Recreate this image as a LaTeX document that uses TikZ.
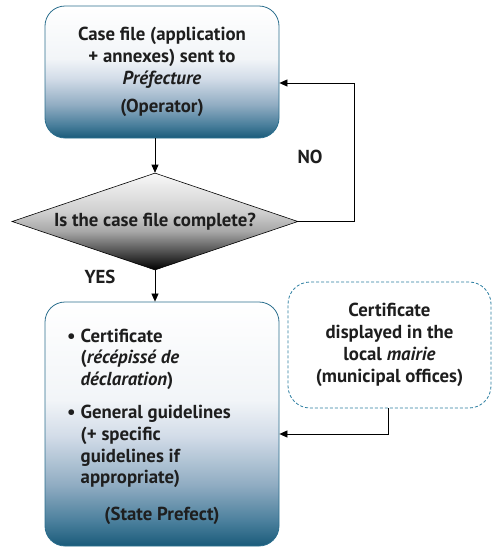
\documentclass[tikz,border=0pt]{standalone}
\usepackage{fontspec}
\setmainfont{PT Sans}
\usetikzlibrary{arrows.meta,shapes.geometric}
\definecolor{bxline}{HTML}{2C6F8E}
\definecolor{bxdark}{HTML}{1A5B7A}
\definecolor{bxa}{HTML}{4A7F9C}
\definecolor{bxb}{HTML}{90ACC2}
\definecolor{bxc}{HTML}{D2DCE8}
\definecolor{bxd}{HTML}{F2F5F8}
\definecolor{dga}{HTML}{555555}
\definecolor{dgb}{HTML}{A8A8A8}
\definecolor{dgc}{HTML}{CFCFCF}
\definecolor{dgd}{HTML}{F8F8F8}
\definecolor{txtc}{HTML}{1E1E1E}
\definecolor{dashc}{HTML}{2A7DA0}
\pgfdeclareverticalshading{boxshade}{100bp}{color(0bp)=(bxdark); color(25bp)=(bxdark); color(30bp)=(bxa); color(37.5bp)=(bxb); color(47.5bp)=(bxc); color(55bp)=(bxd); color(75bp)=(white); color(100bp)=(white)}
\pgfdeclareverticalshading{diashade}{100bp}{color(0bp)=(black); color(25bp)=(black); color(35bp)=(dga); color(45bp)=(dgb); color(55bp)=(dgc); color(75bp)=(dgd); color(100bp)=(dgd)}
\begin{document}
\begin{tikzpicture}[x=1pt,y=-1pt,
  txt/.style={text=txtc, font=\fontsize{18.8}{21.8}\selectfont\bfseries, inner sep=0pt},
  procbox/.style={txt, draw=bxline, line width=0.8pt, rounded corners=20pt, shading=boxshade, align=center},
  decbox/.style={txt, draw=black, line width=0.6pt, shape=diamond, shading=diashade, minimum width=286pt, minimum height=97pt, aspect=2.95},
  notebox/.style={txt, draw=dashc, line width=0.8pt, dash pattern=on 3pt off 2pt, rounded corners=22pt, align=center},
  conn/.style={draw=black, line width=0.7pt, -{Triangle[length=8pt,width=7pt]}},
  lbl/.style={txt}
]
\useasboundingbox (0,0) rectangle (492,547);
\node[procbox, minimum width=234pt, minimum height=132pt] (top) at (162,72) {Case file (application\\+ annexes) sent to\\\textit{Préfecture}\\[6pt](Operator)};
\node[decbox] (dia) at (155,221.5) {Is the case file complete?};
\node[procbox, minimum width=234pt, minimum height=244pt] (bot) at (162,424) {};
\node[txt, anchor=base west] (blist) at (67,342) {\begin{tabular}[t]{@{}l@{\hspace{5pt}}l@{}}\textbullet & Certificate\\ & (\textit{récépissé de}\\ & \textit{déclaration})\\[11pt] \textbullet & General guidelines\\ & (+ specific\\ & guidelines if\\ & appropriate)\end{tabular}};
\node[txt, anchor=base] (bsp) at (162,520) {(State Prefect)};
\node[notebox, minimum width=203pt, minimum height=126pt] (note) at (389.5,345) {Certificate\\displayed in the\\local \textit{mairie}\\(municipal offices)};
\node[lbl] (no) at (310,157) {NO};
\node[lbl] (yes) at (100,277) {YES};
\coordinate (noc) at (354,83);
\coordinate (nt) at (388,434);
\draw[conn] (dia.north |- top.south) -- (dia.north);
\draw[conn] (dia.south) -- (dia.south |- bot.north);
\draw[conn] (dia.east) -| (noc) -- (top.east |- noc);
\draw[conn] (note.south -| nt) -- (nt) -- (bot.east |- nt);
\end{tikzpicture}
\end{document}
